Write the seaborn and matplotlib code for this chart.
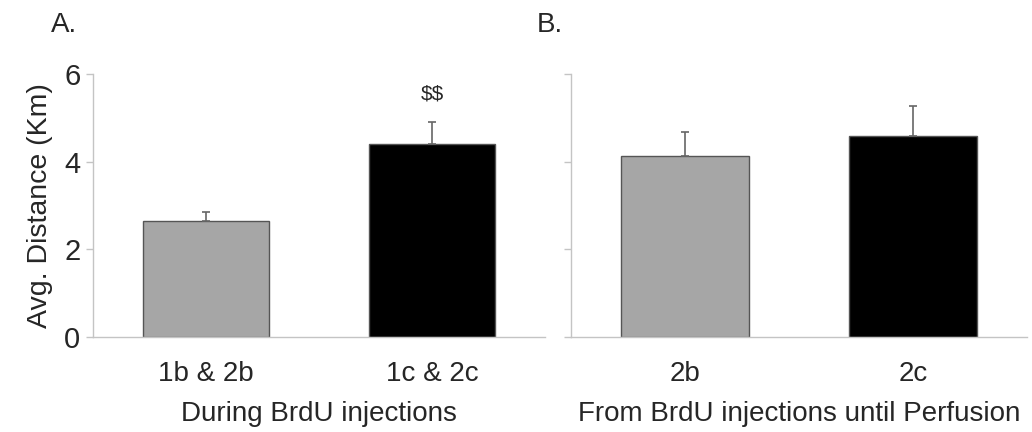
import numpy as np
import matplotlib
matplotlib.use("Agg")
import matplotlib.pyplot as plt
import pandas as pd
import seaborn as sns

# panel A: during BrdU injections
groups_a = ["1b & 2b", "1c & 2c"]
dist_a = [2.65, 4.40]
err_a = [0.21, 0.50]

# panel B: from BrdU injections until perfusion
groups_b = ["2b", "2c"]
dist_b = [4.14, 4.58]
err_b = [0.53, 0.69]

colori = ["#a6a6a6", "#000000"]
asse = "#c4c4c4"

sns.set_style("white")
plt.rcParams['font.family'] = ['Liberation Sans', 'DejaVu Sans']

fig = plt.figure(figsize=(10.32, 4.32), dpi=100)
axA = fig.add_axes([0.0901, 0.2199, 0.4379, 0.6088])
axB = fig.add_axes([0.5533, 0.2199, 0.4417, 0.6088])


def pannello(ax, gruppi, valori, errori, xlabel, labels_y):
    df = pd.DataFrame({'gruppo': gruppi, 'dist': valori})
    sns.barplot(data=df, x='gruppo', y='dist', hue='gruppo', palette=colori,
                width=0.56, edgecolor="#555555", linewidth=1, legend=False, ax=ax)
    ax.errorbar(range(len(gruppi)), valori, yerr=[np.zeros(len(errori)), errori],
                fmt='none', ecolor="#666666", elinewidth=1.2, capsize=3, capthick=1.2)
    ax.set_xlim(-0.5, 1.5)
    ax.set_ylim(0, 6)
    ax.set_yticks([0, 2, 4, 6])
    if labels_y:
        ax.set_yticklabels(["0", "2", "4", "6"], fontsize=21)
        ax.set_ylabel("Avg. Distance (Km)", fontsize=20.5, labelpad=8)
    else:
        ax.set_yticklabels([])
        ax.set_ylabel("")
    ax.set_xticks([0, 1])
    ax.set_xticklabels(gruppi, fontsize=20)
    ax.set_xticks([0.5], minor=True)
    ax.tick_params(axis='x', which='major', length=0, pad=17)
    ax.tick_params(axis='x', which='minor', length=5, color=asse, width=1, direction='out')
    ax.tick_params(axis='y', length=5, color=asse, width=1, direction='out', left=True, pad=4)
    ax.set_xlabel(xlabel, fontsize=20, labelpad=10)
    sns.despine(ax=ax)
    for s in ['left', 'bottom']:
        ax.spines[s].set_color(asse)
        ax.spines[s].set_linewidth(1)


pannello(axA, groups_a, dist_a, err_a, "During BrdU injections", True)
pannello(axB, groups_b, dist_b, err_b, "From BrdU injections until Perfusion", False)

axA.text(1, 5.55, r"\$\$", ha='center', va='center', fontsize=15)
fig.text(0.049, 0.942, "A.", fontsize=20, ha='left', va='center')
fig.text(0.52, 0.942, "B.", fontsize=20, ha='left', va='center')

fig.savefig("out.png", dpi=100)
